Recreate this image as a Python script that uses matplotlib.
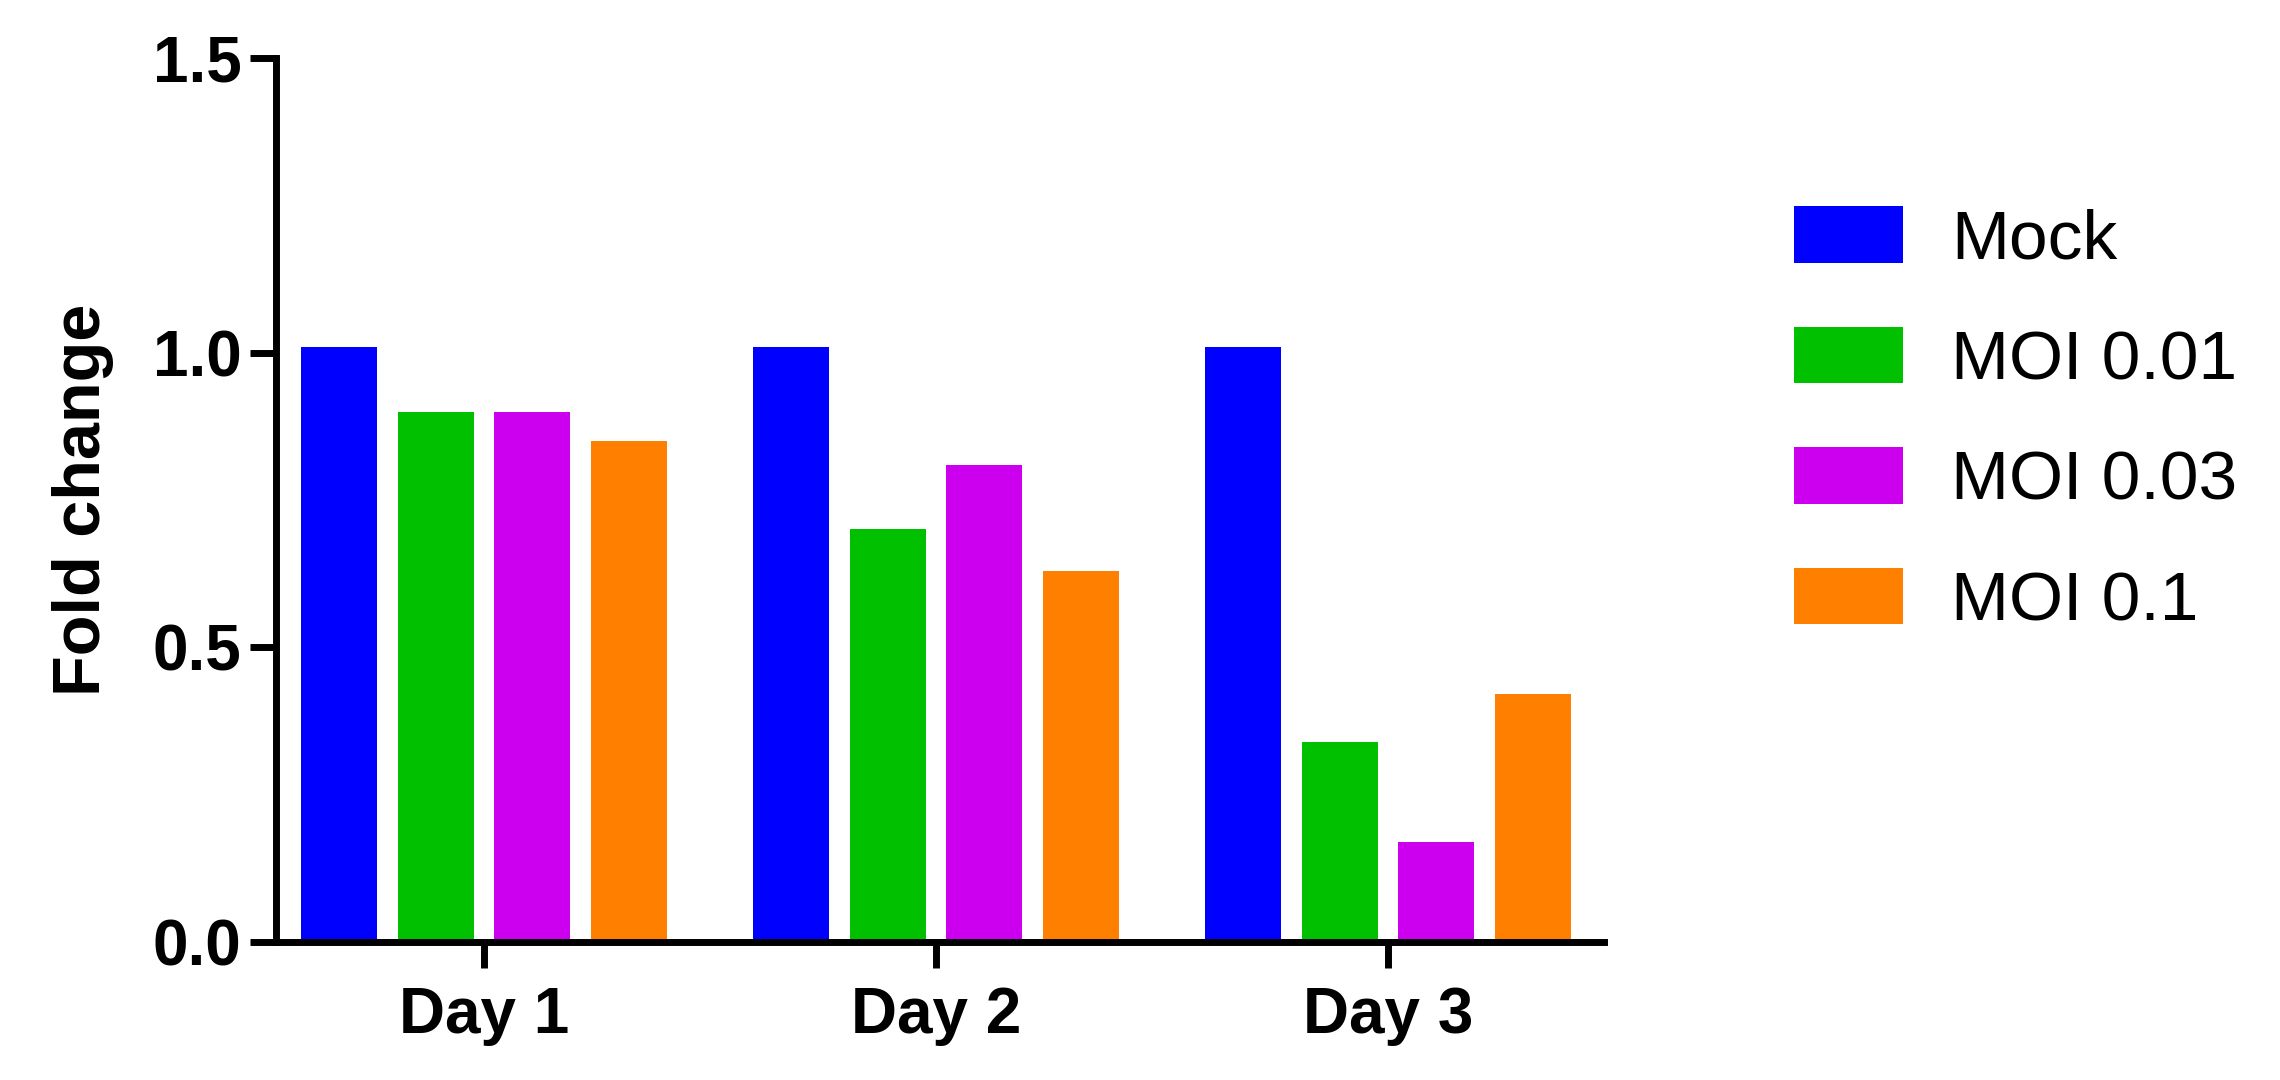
import numpy as np
import matplotlib
matplotlib.use("Agg")
import matplotlib.pyplot as plt

plt.rcParams['font.family'] = ['Liberation Sans', 'DejaVu Sans']

days = ['Day 1', 'Day 2', 'Day 3']
groups = ['Mock', 'MOI 0.01', 'MOI 0.03', 'MOI 0.1']
mock = [1.01, 1.01, 1.01]
moi_001 = [0.90, 0.70, 0.34]
moi_003 = [0.90, 0.81, 0.17]
moi_01 = [0.85, 0.63, 0.42]
colors = ['#0000FF', '#00C000', '#CC00EE', '#FF8000']

series = [mock, moi_001, moi_003, moi_01]

fig = plt.figure(figsize=(22.8, 10.8), dpi=100)
ax = fig.add_axes([0.1211, 0.1278, 0.5824, 0.8185])

x = np.arange(len(days))
pitch = 0.214
width = 0.168
for i, (vals, lab, c) in enumerate(zip(series, groups, colors)):
    ax.bar(x + (i - 1.5) * pitch, vals, width, color=c, label=lab, linewidth=0)

ax.set_xlim(-0.46, 2.478)
ax.set_ylim(0, 1.5)
ax.set_yticks([0.0, 0.5, 1.0, 1.5])
ax.set_yticklabels(['0.0', '0.5', '1.0', '1.5'])
ax.set_xticks(x)
ax.set_xticklabels(days)

for s in ['top', 'right']:
    ax.spines[s].set_visible(False)
for s in ['left', 'bottom']:
    ax.spines[s].set_linewidth(5)
ax.tick_params(axis='both', width=5, length=19, labelsize=46)
ax.tick_params(axis='y', pad=6)
ax.tick_params(axis='x', pad=13)
for t in ax.get_xticklabels() + ax.get_yticklabels():
    t.set_fontweight('bold')

ax.set_ylabel('Fold change', fontsize=48, fontweight='bold', labelpad=28)

fig.legend(loc='center left', bbox_to_anchor=(0.787, 0.611), frameon=False,
           fontsize=50, handlelength=1.56, handleheight=0.88,
           handletextpad=0.7, labelspacing=0.78, borderpad=0, borderaxespad=0)

fig.savefig('out.png', dpi=100)
